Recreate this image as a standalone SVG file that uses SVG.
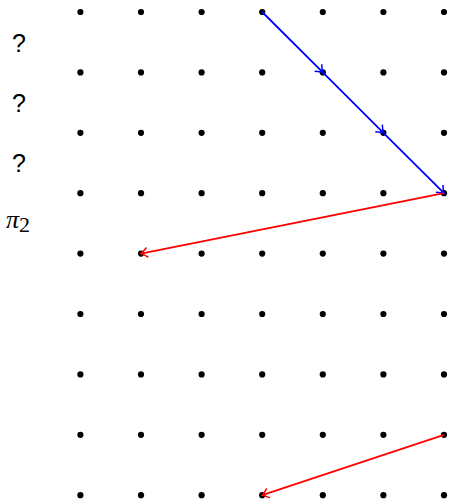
<svg xmlns="http://www.w3.org/2000/svg" width="449" height="502" viewBox="0 0 449 502">
<style>
.dot{fill:#000}
.lbl{font-family:"Liberation Sans",Arial,sans-serif;font-size:25px;fill:#000}
.pi{font-family:"Liberation Serif","Times New Roman",serif;font-size:26px;fill:#000}
.blue{stroke:#0000ff;stroke-width:1.8;fill:none}
.red{stroke:#ff0000;stroke-width:1.8;fill:none}
</style>
<defs>
<marker id="ab" viewBox="-8 -6 10 12" markerWidth="10" markerHeight="12" refX="0" refY="0" orient="auto" markerUnits="userSpaceOnUse">
<path d="M -6.5 -5 Q -2 -1 0 0 Q -2 1 -6.5 5" fill="none" stroke="#0000ff" stroke-width="1.5"/>
</marker>
<marker id="ar" viewBox="-8 -6 10 12" markerWidth="10" markerHeight="12" refX="0" refY="0" orient="auto" markerUnits="userSpaceOnUse">
<path d="M -6.5 -5 Q -2 -1 0 0 Q -2 1 -6.5 5" fill="none" stroke="#ff0000" stroke-width="1.5"/>
</marker>
<circle id="d" r="3.1" class="dot"/>
</defs>
<g id="grid">
<use href="#d" x="80.4" y="12"/><use href="#d" x="141" y="12"/><use href="#d" x="201.6" y="12"/><use href="#d" x="262.2" y="12"/><use href="#d" x="322.8" y="12"/><use href="#d" x="383.4" y="12"/><use href="#d" x="444" y="12"/>
<use href="#d" x="80.4" y="72.4"/><use href="#d" x="141" y="72.4"/><use href="#d" x="201.6" y="72.4"/><use href="#d" x="262.2" y="72.4"/><use href="#d" x="322.8" y="72.4"/><use href="#d" x="383.4" y="72.4"/><use href="#d" x="444" y="72.4"/>
<use href="#d" x="80.4" y="132.8"/><use href="#d" x="141" y="132.8"/><use href="#d" x="201.6" y="132.8"/><use href="#d" x="262.2" y="132.8"/><use href="#d" x="322.8" y="132.8"/><use href="#d" x="383.4" y="132.8"/><use href="#d" x="444" y="132.8"/>
<use href="#d" x="80.4" y="193.2"/><use href="#d" x="141" y="193.2"/><use href="#d" x="201.6" y="193.2"/><use href="#d" x="262.2" y="193.2"/><use href="#d" x="322.8" y="193.2"/><use href="#d" x="383.4" y="193.2"/><use href="#d" x="444" y="193.2"/>
<use href="#d" x="80.4" y="253.6"/><use href="#d" x="141" y="253.6"/><use href="#d" x="201.6" y="253.6"/><use href="#d" x="262.2" y="253.6"/><use href="#d" x="322.8" y="253.6"/><use href="#d" x="383.4" y="253.6"/><use href="#d" x="444" y="253.6"/>
<use href="#d" x="80.4" y="314"/><use href="#d" x="141" y="314"/><use href="#d" x="201.6" y="314"/><use href="#d" x="262.2" y="314"/><use href="#d" x="322.8" y="314"/><use href="#d" x="383.4" y="314"/><use href="#d" x="444" y="314"/>
<use href="#d" x="80.4" y="374.4"/><use href="#d" x="141" y="374.4"/><use href="#d" x="201.6" y="374.4"/><use href="#d" x="262.2" y="374.4"/><use href="#d" x="322.8" y="374.4"/><use href="#d" x="383.4" y="374.4"/><use href="#d" x="444" y="374.4"/>
<use href="#d" x="80.4" y="434.8"/><use href="#d" x="141" y="434.8"/><use href="#d" x="201.6" y="434.8"/><use href="#d" x="262.2" y="434.8"/><use href="#d" x="322.8" y="434.8"/><use href="#d" x="383.4" y="434.8"/><use href="#d" x="444" y="434.8"/>
<use href="#d" x="80.4" y="495.2"/><use href="#d" x="141" y="495.2"/><use href="#d" x="201.6" y="495.2"/><use href="#d" x="262.2" y="495.2"/><use href="#d" x="322.8" y="495.2"/><use href="#d" x="383.4" y="495.2"/><use href="#d" x="444" y="495.2"/>
</g>
<g id="labels">
<text class="lbl" x="12" y="52">?</text>
<text class="lbl" x="12" y="112">?</text>
<text class="lbl" x="12" y="172">?</text>
<text class="pi" x="6" y="228" font-style="italic">π<tspan font-style="normal" font-size="22" dy="4">2</tspan></text>
</g>
<g id="connectors">
<polyline class="blue" points="262.2,12 322.8,72.4 383.4,132.8 444,193.2" marker-mid="url(#ab)" marker-end="url(#ab)"/>
<line class="red" x1="444" y1="193.2" x2="141" y2="253.6" marker-end="url(#ar)"/>
<line class="red" x1="444" y1="434.8" x2="262.2" y2="495.2" marker-end="url(#ar)"/>
</g>
</svg>
